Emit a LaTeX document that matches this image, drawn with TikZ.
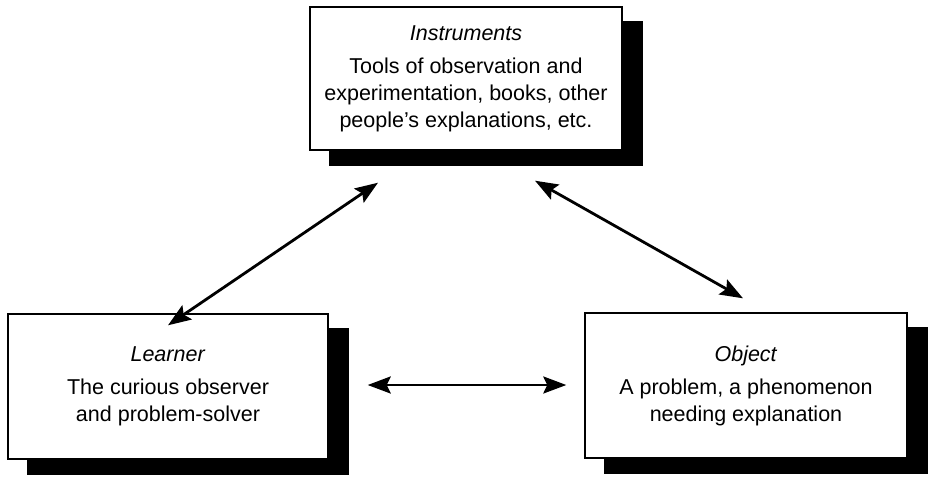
\documentclass[tikz,border=0pt]{standalone}
\usepackage{fontspec}
\setmainfont{Liberation Sans}
\usetikzlibrary{arrows.meta}
\pgfdeclarelayer{bg}
\pgfsetlayers{bg,main}
\tikzset{
    box/.style={rectangle, draw, line width=1.4pt, fill=white, align=center,
        inner sep=0pt, font=\fontsize{21.5}{27}\selectfont},
    link/.style={line width=2.8pt,
        {Stealth[length=23pt,width=17pt,inset=4pt]}-{Stealth[length=23pt,width=17pt,inset=4pt]}}
}

\begin{document}
\begin{tikzpicture}[x=1pt, y=-1pt]
        \useasboundingbox (0,0) rectangle (936,479);
        \node (instr) [box, minimum width=312pt, minimum height=143pt] at (466, 78.5)
                {\textit{Instruments}\\[6pt]Tools of observation and\\experimentation, books, other\\people's explanations, etc.};
        \node (learner) [box, minimum width=320pt, minimum height=145pt] at (168, 386.5)
                {\textit{Learner}\\[6pt]The curious observer\\and problem-solver};
        \node (object) [box, minimum width=322pt, minimum height=145pt] at (746, 385.5)
                {\textit{Object}\\[6pt]A problem, a phenomenon\\needing explanation};
        \coordinate (li) at ([shift={(0,12)}]learner.north);
        \coordinate (il) at ([shift={(-88,32)}]instr.south);
        \coordinate (ir) at ([shift={(69,30)}]instr.south);
        \coordinate (oi) at ([shift={(-3,-14)}]object.north);
        \coordinate (lo) at ([shift={(39,-1.5)}]learner.east);
        \coordinate (ol) at ([shift={(-18,-0.5)}]object.west);
        \begin{pgfonlayer}{bg}
                \foreach \n in {instr, learner, object}
                        \fill ([shift={(20,15)}]\n.north west) rectangle ([shift={(20,15)}]\n.south east);
        \end{pgfonlayer}
        \draw [link] (li) -- (il);
        \draw [link] (ir) -- (oi);
        \draw [link] (lo) -- (ol);
\end{tikzpicture}
\end{document}
